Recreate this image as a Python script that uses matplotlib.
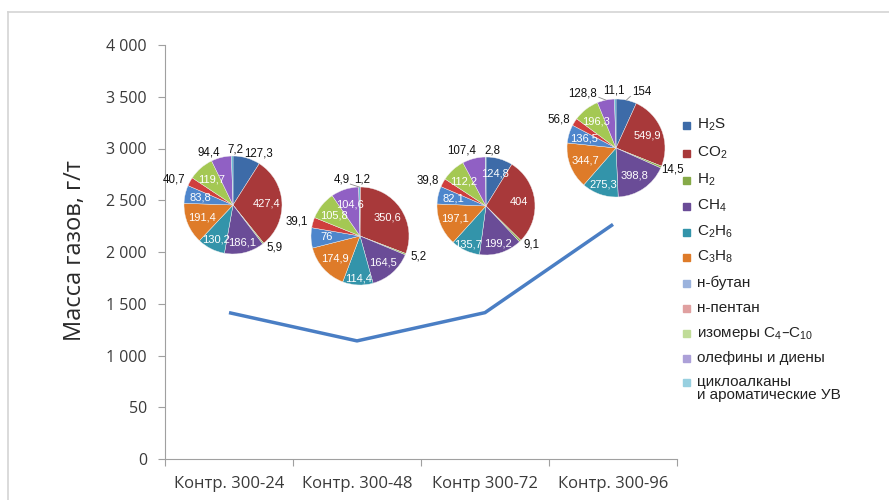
import matplotlib
matplotlib.use('agg')
import matplotlib.pyplot as plt
from matplotlib.lines import Line2D
from matplotlib.patches import Rectangle
import numpy as np

W, H = 889, 500

# gas groups in clockwise order from 12 o'clock
gases = [r'H$_2$S', r'CO$_2$', r'H$_2$', r'CH$_4$', r'C$_2$H$_6$', r'C$_3$H$_8$',
         'н-бутан', 'н-пентан', r'изомеры C$_4$–C$_{10}$', 'олефины и диены',
         'циклоалканы\nи ароматические УВ']
samples = ['Контр. 300-24', 'Контр. 300-48', 'Контр 300-72', 'Контр. 300-96']

g_24 = [127.3, 427.4, 5.9, 186.1, 130.2, 191.4, 83.8, 40.7, 119.7, 94.4, 7.2]
g_48 = [1.2, 350.6, 5.2, 164.5, 114.4, 174.9, 76, 39.1, 105.8, 104.6, 4.9]
g_72 = [124.8, 404, 9.1, 199.2, 135.7, 197.1, 82.1, 39.8, 112.2, 107.4, 2.8]
g_96 = [154, 549.9, 14.5, 398.8, 275.3, 344.7, 136.5, 56.8, 196.3, 128.8, 11.1]
all_gas = [g_24, g_48, g_72, g_96]

yticks = [0, 500, 1000, 1500, 2000, 2500, 3000, 3500, 4000]
ylabels = ['0', '50', '1 000', '1 500', '2 000', '2 500', '3 000', '3 500', '4 000']

pie_colors = ['#3D6BA8', '#A8393A', '#8BAE45', '#6A4C97', '#3394AA', '#DE7B29',
              '#4E86CC', '#CF3E3D', '#A4C853', '#9060C4', '#4CB0CC']
leg_colors = ['#3D6BA8', '#A8393A', '#86AA48', '#6A4C97', '#3394AA', '#DE7B29',
              '#9BB3DD', '#E0A0A0', '#C0DC98', '#ACA0D8', '#98D0E0']

# which slices get their value written outside the pie
outside = [{0, 2, 7, 9, 10}, {0, 2, 7, 10}, {2, 7, 9, 10}, {0, 2, 7, 9, 10}]
# hand tweaks for crowded outside labels: (pie, slice) -> (ha, dx, dy, leader start dx, dy) in px
tweaks = {
    (0, 0): ('left', -4, 0, None),
    (0, 10): ('center', 3, -2, None),
    (1, 0): ('center', 2, -3, None),
    (1, 10): ('center', -17, -3, (8, 5)),
    (2, 9): ('right', 4, -3, None),
    (2, 10): ('center', 7, -2, None),
    (3, 0): ('left', 5, -3, (-2, 4)),
    (3, 2): ('left', -4, 0, None),
    (3, 9): ('right', -8, -2, (2, 4)),
    (3, 10): ('center', -1, -4, None),
}
# inside labels pushed towards the rim where they would collide
inner_r = {(0, 3): 0.78, (0, 4): 0.78, (1, 4): 0.86, (1, 3): 0.72,
           (2, 3): 0.8, (2, 4): 0.86, (3, 4): 0.8}
# pie centres (px) and radius
pie_xy = [(233, 205), (360, 236), (486, 206), (616, 148)]
pie_r = 49

plt.rcParams['mathtext.default'] = 'regular'
fig = plt.figure(figsize=(W / 100, H / 100), dpi=100)

# frame lines at top and left
fig.add_artist(Line2D([8 / W, 1], [1 - 12 / H, 1 - 12 / H], color='#D4D4D4', lw=1.2))
fig.add_artist(Line2D([8 / W, 8 / W], [0, 1 - 12 / H], color='#D4D4D4', lw=1.2))

x0, x1, yb, yt = 165, 677, 459, 45
ax = fig.add_axes([x0 / W, 1 - yb / H, (x1 - x0) / W, (yb - yt) / H])
ax.set_xlim(0, 4)
ax.set_ylim(0, 4000)
totals = [sum(g) for g in all_gas]
xc = np.arange(len(samples)) + 0.5
ax.plot(xc, totals, color='#4A7EC4', lw=2.5, solid_capstyle='butt')

for s in ('top', 'right'):
    ax.spines[s].set_visible(False)
for s in ('left', 'bottom'):
    ax.spines[s].set_color('#A0A0A0')
ax.set_yticks(yticks)
ax.set_yticklabels(ylabels, fontfamily='Open Sans', fontsize=11.5, color='#3A3A3A')
ax.set_xticks(range(5))
ax.set_xticklabels([])
ax.set_xticks(xc, minor=True)
ax.set_xticklabels(samples, minor=True, fontfamily='Open Sans', fontsize=12, color='#3A3A3A')
ax.tick_params(axis='both', which='major', color='#A0A0A0', length=5)
ax.tick_params(axis='x', which='minor', length=0, pad=12)
ax.tick_params(axis='y', pad=8)

fig.text(75 / W, 1 - 251 / H, 'Масса газов, г/т', rotation=90, ha='center', va='center',
         fontfamily='Open Sans', fontsize=17, color='#2A2A2A')

# pies
for k, vals in enumerate(all_gas):
    cx, cy = pie_xy[k]
    pa = fig.add_axes([(cx - pie_r) / W, 1 - (cy + pie_r) / H, 2 * pie_r / W, 2 * pie_r / H])
    wedges, _ = pa.pie(vals, colors=pie_colors, startangle=90, counterclock=False,
                       radius=1, wedgeprops=dict(linewidth=0.3, edgecolor='#f0f0f0'))
    pa.set_xlim(-1, 1)
    pa.set_ylim(-1, 1)
    pa.set_aspect('equal')
    pa.axis('off')
    px = 1.0 / pie_r  # one pixel in pie units
    for i, w in enumerate(wedges):
        ang = np.deg2rad((w.theta1 + w.theta2) / 2)
        txt = '{:g}'.format(vals[i]).replace('.', ',')
        if i in outside[k]:
            r = 1.1
            tx, ty = r * np.cos(ang), r * np.sin(ang)
            ha = 'left' if np.cos(ang) >= 0 else 'right'
            if (k, i) in tweaks:
                ha, dx, dy, lead = tweaks[(k, i)]
                tx += dx * px
                ty -= dy * px
                if lead is not None:
                    pa.plot([tx + lead[0] * px, np.cos(ang)], [ty - lead[1] * px, np.sin(ang)],
                            color='#8A8A8A', lw=0.6, clip_on=False)
            pa.text(tx, ty, txt, ha=ha, va='center',
                    fontfamily='Liberation Sans', fontsize=8.3, color='#111111')
        else:
            r = inner_r.get((k, i), 0.68)
            pa.text(r * np.cos(ang), r * np.sin(ang), txt, ha='center', va='center',
                    fontfamily='Liberation Sans', fontsize=8, color='white')

# legend
leg_y = [125, 153, 180, 206, 232, 257, 283, 308, 333, 358, 382]
for name, col, y in zip(gases, leg_colors, leg_y):
    fig.add_artist(Rectangle(((686 - 3.5) / W, 1 - (y + 3.5) / H), 7 / W, 7 / H,
                             color=col, transform=fig.transFigure))
    if '\n' in name:
        fig.text(697 / W, 1 - (y - 7) / H, name, ha='left', va='top', linespacing=0.95,
                 fontfamily='Liberation Sans', fontsize=11, color='#222222')
    else:
        fig.text(697 / W, 1 - y / H, name, ha='left', va='center',
                 fontfamily='Liberation Sans', fontsize=11, color='#222222')

fig.savefig('out.png', dpi=100)
